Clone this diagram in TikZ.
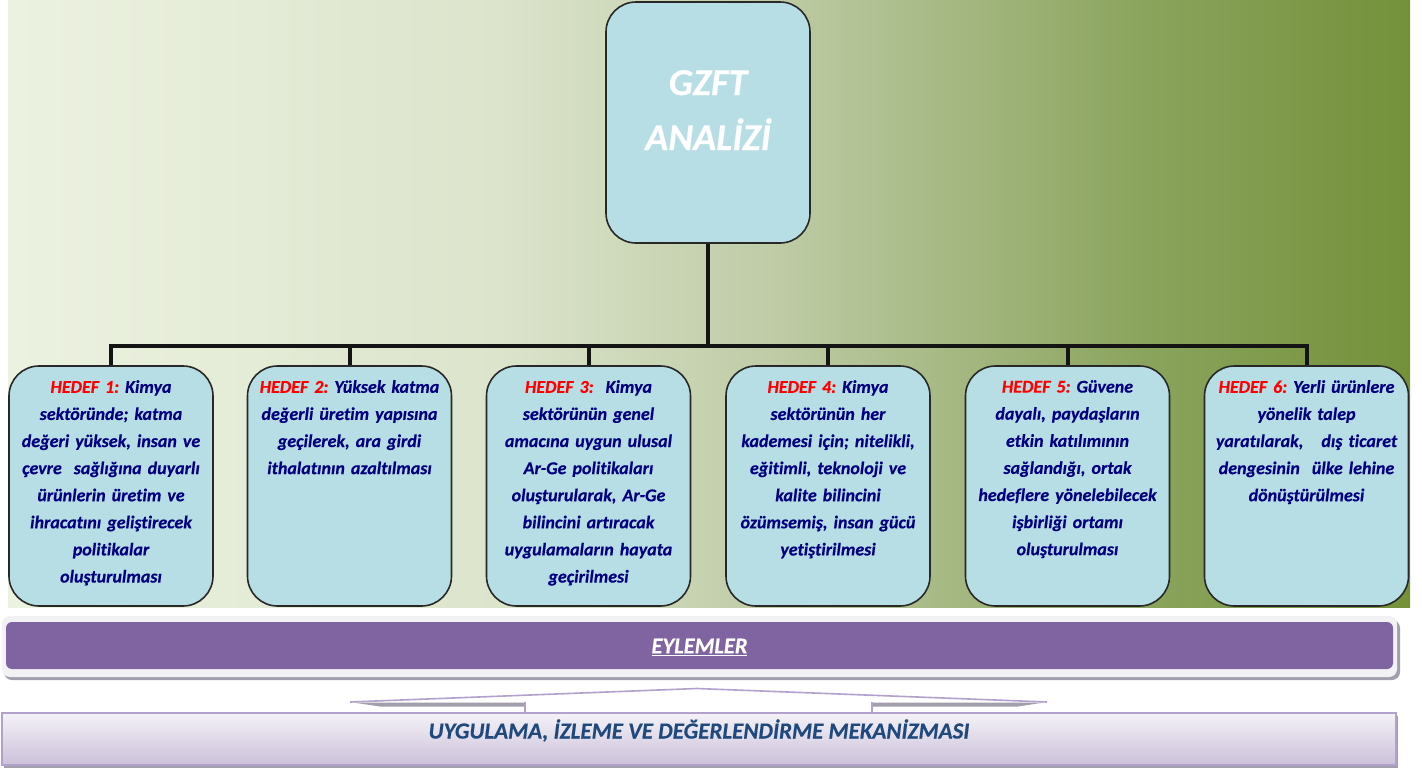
\documentclass[tikz,border=0pt]{standalone}
\usepackage{fontspec}
\setmainfont{Carlito}[BoldFont={Carlito Bold}, ItalicFont={Carlito Italic}, BoldItalicFont={Carlito Bold Italic}, BoldItalicFeatures={FakeBold=0.35}, Ligatures=NoCommon]
\frenchspacing
\definecolor{bgA}{RGB}{236,242,224}
\definecolor{bgB}{RGB}{220,228,204}
\definecolor{bgC}{RGB}{190,203,165}
\definecolor{bgD}{RGB}{140,165,95}
\definecolor{bgE}{RGB}{116,145,58}
\definecolor{boxfill}{RGB}{183,222,228}
\definecolor{boxline}{RGB}{40,40,40}
\definecolor{navytext}{RGB}{0,0,128}
\definecolor{hedefred}{RGB}{255,0,0}
\definecolor{purplebar}{RGB}{128,100,162}
\definecolor{framegray}{RGB}{242,242,245}
\definecolor{shadowgray}{RGB}{163,158,172}
\definecolor{wedgepurple}{RGB}{178,160,205}
\definecolor{lowtop}{RGB}{244,242,247}
\definecolor{lowbot}{RGB}{204,192,218}
\definecolor{lowtext}{RGB}{31,73,125}
\pgfdeclarehorizontalshading{bgshade}{100bp}{color(0bp)=(bgA); color(25bp)=(bgA); color(42.5bp)=(bgB); color(52.5bp)=(bgC); color(65bp)=(bgD); color(75bp)=(bgE); color(100bp)=(bgE)}
\begin{document}
\begin{tikzpicture}[x=1pt,y=-1pt,
  hbox/.style={draw=boxline, line width=1.6pt, fill=boxfill, rounded corners=30pt,
    minimum width=204pt, minimum height=240pt, inner sep=0pt},
  htext/.style={text width=202pt, align=center, inner sep=0pt, anchor=north,
    font=\fontsize{18}{27.1}\selectfont\bfseries\itshape, text=navytext},
  toptext/.style={inner sep=0pt, anchor=base, text=white,
    font=\fontsize{38}{42}\selectfont\bfseries\itshape},
  conn/.style={line width=4pt, draw=black!92, line join=miter},
  hd/.style={text=hedefred}
]
\useasboundingbox (0,0) rectangle (1422,769);
\fill[white] (0,0) rectangle (1422,769);
% background gradient
\fill[shading=bgshade] (8,0) rectangle (1410,607);

% top box
\node[hbox, minimum height=241pt] (top) at (708,122.5) {};
\node[toptext] (gz1) at (708,95) {GZFT};
\node[toptext] (gz2) at (708,150) {ANALİZİ};

% goal boxes
\node[hbox] (g1) at (111,486) {};
\node[hbox] (g2) at (349.5,486) {};
\node[hbox] (g3) at (588.5,486) {};
\node[hbox] (g4) at (828,486) {};
\node[hbox] (g5) at (1067.5,486) {};
\node[hbox] (g6) at (1306.5,486) {};

% connectors
\coordinate (bus) at (708,346);
\draw[conn] (top.south) -- (bus);
\draw[conn] (g1.north) -- (g1.north |- bus) -- (g6.north |- bus) -- (g6.north);
\draw[conn] (g2.north |- bus) -- (g2.north);
\draw[conn] (g3.north |- bus) -- (g3.north);
\draw[conn] (g4.north |- bus) -- (g4.north);
\draw[conn] (g5.north |- bus) -- (g5.north);

% goal texts
\node[htext] (t1) at (111,380) {{\color{hedefred}HEDEF 1:} Kimya\\ sektöründe; katma\\ değeri yüksek, insan ve\\ çevre\ \ sağlığına duyarlı\\ ürünlerin üretim ve\\ ihracatını geliştirecek\\ politikalar\\ oluşturulması};
\node[htext] (t2) at (349.5,380) {{\color{hedefred}HEDEF 2:} Yüksek katma\\ değerli üretim yapısına\\ geçilerek, ara girdi\\ ithalatının azaltılması};
\node[htext] (t3) at (588.5,380) {{\color{hedefred}HEDEF 3:}\ \ Kimya\\ sektörünün genel\\ amacına uygun ulusal\\ Ar-Ge politikaları\\ oluşturularak, Ar-Ge\\ bilincini artıracak\\ uygulamaların hayata\\ geçirilmesi};
\node[htext] (t4) at (828,380) {{\color{hedefred}HEDEF 4:} Kimya\\ sektörünün her\\ kademesi için; nitelikli,\\ eğitimli, teknoloji ve\\ kalite bilincini\\ özümsemiş, insan gücü\\ yetiştirilmesi};
\node[htext] (t5) at (1067.5,380) {{\color{hedefred}HEDEF 5:} Güvene\\ dayalı, paydaşların\\ etkin katılımının\\ sağlandığı, ortak\\ hedeflere yönelebilecek\\ işbirliği ortamı\\ oluşturulması};
\node[htext] (t6) at (1306.5,380) {{\color{hedefred}HEDEF 6:} Yerli ürünlere\\ yönelik talep\\ yaratılarak,\ \ \ dış ticaret\\ dengesinin\ \ ülke lehine\\ dönüştürülmesi};

% EYLEMLER bar
\fill[shadowgray, rounded corners=8pt] (4,620) rectangle (1400,680);
\fill[framegray, rounded corners=8pt] (2,616) rectangle (1397,677);
\node[fill=purplebar, rounded corners=6pt, minimum width=1387pt, minimum height=47pt, inner sep=0pt] (eyl) at (699.5,645.5) {};
\node[inner sep=0pt, text=white, font=\fontsize{22.5}{25}\selectfont\bfseries\itshape] (eyltext) at (699.5,647) {\underline{EYLEMLER}};

% bottom box
\fill[shadowgray] (4,716) rectangle (1398,768);
\node[draw=wedgepurple, line width=1.5pt, top color=lowtop, bottom color=lowbot, minimum width=1394pt, minimum height=52pt, inner sep=0pt] (low) at (699,739) {};
\node[inner sep=0pt, anchor=base, text=lowtext, font=\fontsize{23}{25}\selectfont\bfseries\itshape] (lowtxt) at (699,738.5) {UYGULAMA, İZLEME VE DEĞERLENDİRME MEKANİZMASI};

% connecting wedge
\fill[shadowgray] (353,702.5) -- (525,702.5) -- (525,706.5) -- (380,706.5) -- cycle;
\fill[shadowgray] (872,702.5) -- (1044,702.5) -- (1018,706.5) -- (872,706.5) -- cycle;
\draw[wedgepurple, line width=1.2pt] (525,702) -- (525,713.5);
\draw[wedgepurple, line width=1.2pt] (872,702) -- (872,713.5);
\draw[wedgepurple, line width=1.6pt, line join=round] (350,702) -- (697,688.5) -- (1047,702);
\end{tikzpicture}
\end{document}
